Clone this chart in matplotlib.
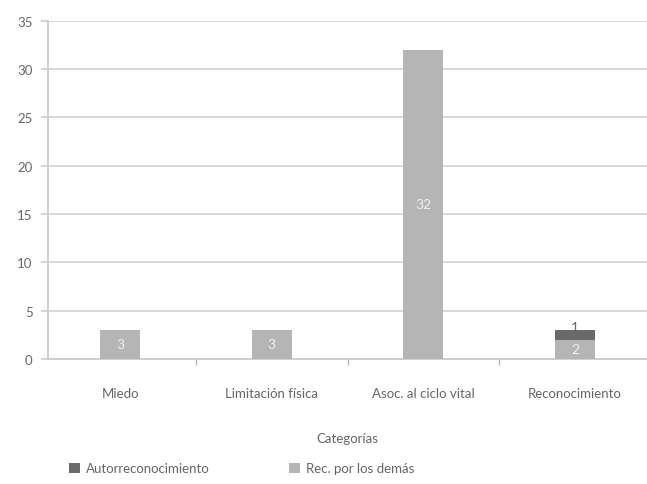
import matplotlib
matplotlib.use("Agg")
import matplotlib.pyplot as plt
import numpy as np

categories = ["Miedo", "Limitación física", "Asoc. al ciclo vital", "Reconocimiento"]
auto = [0, 0, 0, 1]
rec = [3, 3, 32, 2]
yticks = [0, 5, 10, 15, 20, 25, 30, 35]

plt.rcParams['font.family'] = ['Lato', 'DejaVu Sans']
fig = plt.figure(figsize=(6.47, 4.85), dpi=100)
ax = fig.add_axes([0.0742, 0.258, 0.926, 0.697])

x = np.arange(len(categories))
light = "#b5b5b5"
dark = "#6a6a6a"
b1 = ax.bar(x, rec, width=0.264, color=light, label="Rec. por los demás", zorder=3)
b2 = ax.bar(x, auto, width=0.264, bottom=rec, color=dark, label="Autorreconocimiento", zorder=3)

for xi, r in zip(x, rec):
    if r > 0:
        ax.text(xi, r / 2, str(r), ha="center", va="center", color="#eeeeee", fontsize=10, zorder=4)
for xi, a, r in zip(x, auto, rec):
    if a > 0:
        ax.text(xi, r + a - 0.3, str(a), ha="center", va="bottom", color="#666666", fontsize=10, zorder=4)

ax.set_xlim(-0.475, len(categories) - 0.525)
ax.set_ylim(0, 35)
ax.set_yticks(yticks)
ax.set_xticks(x)
ax.set_xticklabels(categories)
ax.set_xticks(np.arange(1, len(categories)) - 0.5, minor=True)
ax.tick_params(axis="x", which="major", length=0, pad=20, labelsize=9.5, labelcolor="#666666")
ax.tick_params(axis="x", which="minor", length=4, color="#bbbbbb", width=1)
ax.tick_params(axis="y", length=5, color="#cccccc", width=1.2, labelsize=9.5, labelcolor="#666666", pad=6)
ax.grid(axis="y", color="#d4d4d4", linewidth=1.3, zorder=0)
for s in ["top", "right"]:
    ax.spines[s].set_visible(False)
ax.spines["left"].set_color("#cccccc")
ax.spines["left"].set_linewidth(1.3)
ax.spines["bottom"].set_color("#cccccc")
ax.spines["bottom"].set_linewidth(1.3)
ax.set_xlabel("Categorías", color="#666666", fontsize=9.5, labelpad=24)

handles = [b2, b1]
fig.legend(handles, [h.get_label() for h in handles], loc="center", bbox_to_anchor=(0.374, 0.032),
           ncol=2, frameon=False, fontsize=9.5, labelcolor="#666666", handlelength=0.8,
           handleheight=0.8, columnspacing=6, handletextpad=0.5)

fig.savefig("out.png", dpi=100)
